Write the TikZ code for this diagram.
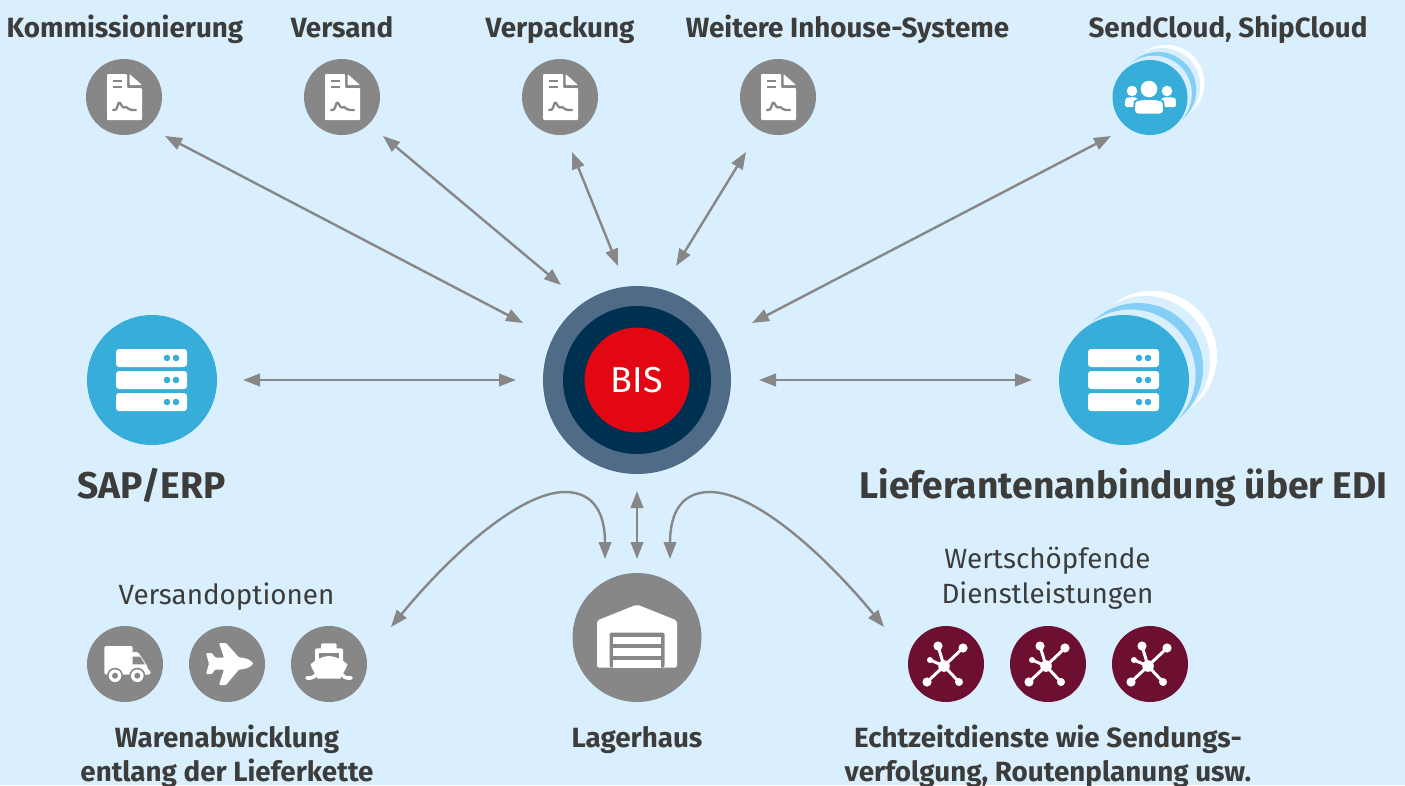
\documentclass[tikz,border=0pt]{standalone}
\usepackage{fontspec}
\setmainfont{Fira Sans}
\usetikzlibrary{arrows.meta}
\definecolor{bgc}{HTML}{D9EFFD}
\definecolor{greyc}{HTML}{878787}
\definecolor{bluec}{HTML}{36AED9}
\definecolor{lightc}{HTML}{84CFF5}
\definecolor{maroonc}{HTML}{6D0F30}
\definecolor{ringa}{HTML}{4F6B88}
\definecolor{ringb}{HTML}{00304F}
\definecolor{redc}{HTML}{E30613}
\definecolor{txtc}{HTML}{3C3C3B}
\tikzset{
  disc/.style={circle,inner sep=0pt,outer sep=0pt,draw=none},
  smallgrey/.style={disc,fill=greyc,minimum size=76pt},
  smallmaroon/.style={disc,fill=maroonc,minimum size=76pt},
  smallblue/.style={disc,fill=bluec,minimum size=75pt},
  bigblue/.style={disc,fill=bluec,minimum size=130pt},
  biggrey/.style={disc,fill=greyc,minimum size=129pt},
  arr/.style={draw=greyc,line width=2.4pt,{Triangle[length=17pt,width=12.5pt]}-{Triangle[length=17pt,width=12.5pt]}},
  boldlabel/.style={inner sep=0pt,text=txtc,font=\bfseries\fontsize{27.8}{34}\selectfont,align=center},
  biglabel/.style={inner sep=0pt,text=txtc,font=\bfseries\fontsize{37.2}{40}\selectfont},
  thinlabel/.style={inner sep=0pt,text=txtc,font=\fontsize{27.8}{35}\selectfont,align=center},
  docicon/.pic={
    \fill[white,rounded corners=1pt] (-17,-23) -- (3,-23) -- (3,-9) -- (18,-9) -- (18,23) -- (-17,23) -- cycle;
    \fill[white,rounded corners=0.8pt] (5.5,-23) -- (18,-12) -- (5.5,-12) -- cycle;
    \draw[greyc,line width=2.2pt] (-11,-16) -- (-2,-16) (-11,-10) -- (-2,-10);
    \draw[greyc,line width=2.3pt,line cap=round,line join=round] (-11,13) -- (-8,12.5) .. controls (-6,10) and (-6,5) .. (-4.5,5.5) .. controls (-3,6) and (-2,11) .. (0,10.5) .. controls (2,9.5) and (3,10) .. (4,11.5) .. controls (5,13) and (8,13) .. (12,13);
  },
  peopleicon/.pic={
    \fill[white] (-1,-8.5) circle[radius=8.3];
    \fill[white] (-18,-6.5) circle[radius=5.3];
    \fill[white] (17,-6.5) circle[radius=5.3];
    \fill[white,rounded corners=2pt] (-25,9.5) -- (-25,3) .. controls (-24,0) and (-18,-0.5) .. (-13,0) -- (-8,9.5) -- cycle;
    \fill[white,rounded corners=2pt] (26,9.5) -- (26,3) .. controls (25,0) and (19,-0.5) .. (12,0) -- (7,9.5) -- cycle;
    \filldraw[draw=bluec,line width=1.8pt,fill=white,rounded corners=4pt] (-16,17) -- (-16,8) .. controls (-15,3) and (-8,1.5) .. (-1,1.5) .. controls (6,1.5) and (13,3) .. (14,8) -- (14,17) -- cycle;
  },
  servericon/.pic={
    \foreach \yy in {-22,0,22} {
      \fill[white,rounded corners=3pt] (-36,\yy-9) rectangle (35,\yy+9);
      \fill[bluec] (15,\yy) circle[radius=3.3];
      \fill[bluec] (24,\yy) circle[radius=3.3];
    }
  },
  crescents/.pic={
    \fill[white] (28,-24) circle[radius=65];
    \fill[bgc] (21,-19) circle[radius=65];
    \fill[lightc] (14,-12) circle[radius=65];
    \fill[bgc] (6.5,-5.5) circle[radius=65];
  },
  truckicon/.pic={
    \fill[white,rounded corners=2pt] (-20.7,-18) -- (7.7,-18) -- (7.7,10.5) -- (-20.7,10.5) -- cycle;
    \fill[white,rounded corners=1.5pt] (7,-12) -- (13,-12) -- (22.7,2.7) -- (22.7,6) -- (25.5,6) -- (25.5,10.5) -- (7,10.5) -- cycle;
    \fill[greyc] (7.7,-7.5) -- (15,-7.5) -- (20,0.3) -- (7.7,0.3) -- cycle;
    \foreach \xx in {-10,12.3} {
      \fill[greyc] (\xx,11.7) circle[radius=8];
      \fill[white] (\xx,11.7) circle[radius=6.3];
      \fill[greyc] (\xx,11.7) circle[radius=3];
    }
  },
  planeicon/.pic={
    \fill[white,rounded corners=1pt] (26,-0.5) .. controls (24,-4) and (18,-6.5) .. (12,-6.5) -- (-1,-21) -- (-8,-21) -- (-3,-6.5) -- (-12,-6.5) -- (-15,-11) -- (-21,-11) -- (-18,-0.5) -- (-21,10) -- (-15,10) -- (-12,5.5) -- (-3,5.5) -- (-8,21) -- (-1,21) -- (12,5.5) .. controls (18,5.5) and (24,3) .. (26,-0.5) -- cycle;
  },
  shipicon/.pic={
    \fill[white,rounded corners=1.5pt] (-8,-20.7) rectangle (7.7,-12);
    \fill[white,rounded corners=2pt] (-14,-15.7) rectangle (14,2);
    \fill[greyc] (-10,-11.5) rectangle (9.5,-3);
    \fill[white] (0,-8) .. controls (6,-8) and (14,-4) .. (18.5,0.3) .. controls (17,6) and (13,10) .. (11.5,14.5) -- (-11.5,14.5) .. controls (-13,10) and (-17,6) .. (-18.5,0.3) .. controls (-14,-4) and (-6,-8) .. (0,-8) -- cycle;
    \draw[white,line width=3.6pt,line cap=round] (-22,14) .. controls (-15,14.5) and (-14,12) .. (-11,8);
    \draw[white,line width=3.6pt,line cap=round] (22,14) .. controls (15,14.5) and (14,12) .. (11,8);
  },
  houseicon/.pic={
    \fill[white,rounded corners=2pt] (-40,30) -- (-40,-17) -- (0,-33) -- (40,-17) -- (40,30) -- cycle;
    \fill[greyc,rounded corners=2pt] (-27.5,30) -- (-27.5,-5) -- (27.5,-5) -- (27.5,30) -- cycle;
    \fill[white] (-24,-1) rectangle (24,6.5);
    \fill[white] (-24,10.5) rectangle (24,18);
    \fill[white] (-24,22) rectangle (24,30);
  },
  neticon/.pic={
    \draw[white,line width=3pt] (-2,2) -- (-8,-18) (-2,2) -- (17,-16) (-2,2) -- (-16,-4) (-2,2) -- (-19,18) (-2,2) -- (13,18);
    \fill[white] (-2,2) circle[radius=5.8];
    \fill[white] (-8,-18) circle[radius=4.6];
    \fill[white] (17,-16) circle[radius=4.6];
    \fill[white] (-16,-4) circle[radius=3];
    \fill[white] (-19,18) circle[radius=4.6];
    \fill[white] (13,18) circle[radius=4];
  },
}
\begin{document}
\begin{tikzpicture}[x=1pt,y=-1pt]
\path[use as bounding box,fill=bgc] (0,0) rectangle (1405,785);

% top row
\node[smallgrey] (kom) at (124,97) {};
\node[smallgrey] (ver) at (342,97) {};
\node[smallgrey] (pack) at (560,97) {};
\node[smallgrey] (inh) at (778,97) {};
\pic at (kom) {docicon};
\pic at (ver) {docicon};
\pic at (pack) {docicon};
\pic at (inh) {docicon};
\node[boldlabel,anchor=base] (komt) at (125,37.5) {Kommissionierung};
\node[boldlabel,anchor=base] (vert) at (342,37.5) {Versand};
\node[boldlabel,anchor=base] (packt) at (560,37.5) {Verpackung};
\node[boldlabel,anchor=base] (inht) at (847.5,37.5) {Weitere Inhouse-Systeme};
\node[boldlabel,anchor=base] (sendt) at (1228,37.5) {SendCloud, ShipCloud};

\pic[scale=0.585] at (1150,97) {crescents};
\node[smallblue] (send) at (1150,97.5) {};
\pic at (send) {peopleicon};

% centre
\node[disc,fill=ringa,minimum size=188pt] (bisa) at (637,380) {};
\node[disc,fill=ringb,minimum size=148pt] (bisb) at (637,380) {};
\node[disc,fill=redc,minimum size=105pt,text=white,font=\fontsize{36}{40}\selectfont] (bis) at (637,380) {BIS};

% left, right
\node[bigblue] (sap) at (152,380) {};
\pic at (sap) {servericon};
\node[biglabel,anchor=base] (sapt) at (151.5,498) {SAP/ERP};
\pic at (1124,380) {crescents};
\node[bigblue] (edi) at (1124,380) {};
\pic at (edi) {servericon};
\node[biglabel,anchor=base] (edit) at (1123.5,498) {Lieferantenanbindung über EDI};

% bottom left
\node[thinlabel,anchor=base] (optt) at (226.5,604) {Versandoptionen};
\node[smallgrey] (truck) at (125,664) {};
\node[smallgrey] (plane) at (227,664) {};
\node[smallgrey] (ship) at (329,664) {};
\pic at (truck) {truckicon};
\pic at (plane) {planeicon};
\pic at (ship) {shipicon};
\node[boldlabel] (waret) at (227,756) {Warenabwicklung\\entlang der Lieferkette};

% bottom centre
\node[biggrey] (house) at (637,637.5) {};
\pic at (house) {houseicon};
\node[boldlabel,anchor=base] (houset) at (637,747) {Lagerhaus};

% bottom right
\node[thinlabel] (wertt) at (1047.5,578.5) {Wertschöpfende\\Dienstleistungen};
\node[smallmaroon] (neta) at (946,664) {};
\node[smallmaroon] (netb) at (1048,664) {};
\node[smallmaroon] (netc) at (1150,664) {};
\pic at (neta) {neticon};
\pic at (netb) {neticon};
\pic at (netc) {neticon};
\node[boldlabel] (echtt) at (1048,756) {Echtzeitdienste wie Sendungs-\\verfolgung, Routenplanung usw.};

% connector ends
\coordinate (c1a) at (165,136); \coordinate (c1b) at (523,323);
\coordinate (c2a) at (383,136); \coordinate (c2b) at (561,285);
\coordinate (c3a) at (572,152); \coordinate (c3b) at (618,266);
\coordinate (c4a) at (746,152); \coordinate (c4b) at (676,266);
\coordinate (c5a) at (1111,136); \coordinate (c5b) at (752,323);
\coordinate (c6a) at (243,380); \coordinate (c6b) at (516,380);
\coordinate (c7a) at (759,380); \coordinate (c7b) at (1032,380);
\coordinate (c8a) at (391,627); \coordinate (c8b) at (605,559);
\coordinate (c9a) at (637,491); \coordinate (c9b) at (637,559);
\coordinate (c10a) at (884,627); \coordinate (c10b) at (670,559);

\draw[arr] (c1a) -- (c1b);
\draw[arr] (c2a) -- (c2b);
\draw[arr] (c3a) -- (c3b);
\draw[arr] (c4a) -- (c4b);
\draw[arr] (c5a) -- (c5b);
\draw[arr] (c6a) -- (c6b);
\draw[arr] (c7a) -- (c7b);
\draw[arr] (c8a) .. controls (450,555) and (520,492) .. (565,492) .. controls (595,492) and (605,515) .. (c8b);
\draw[arr] (c9a) -- (c9b);
\draw[arr] (c10a) .. controls (825,555) and (755,492) .. (710,492) .. controls (680,492) and (670,515) .. (c10b);
\end{tikzpicture}
\end{document}
